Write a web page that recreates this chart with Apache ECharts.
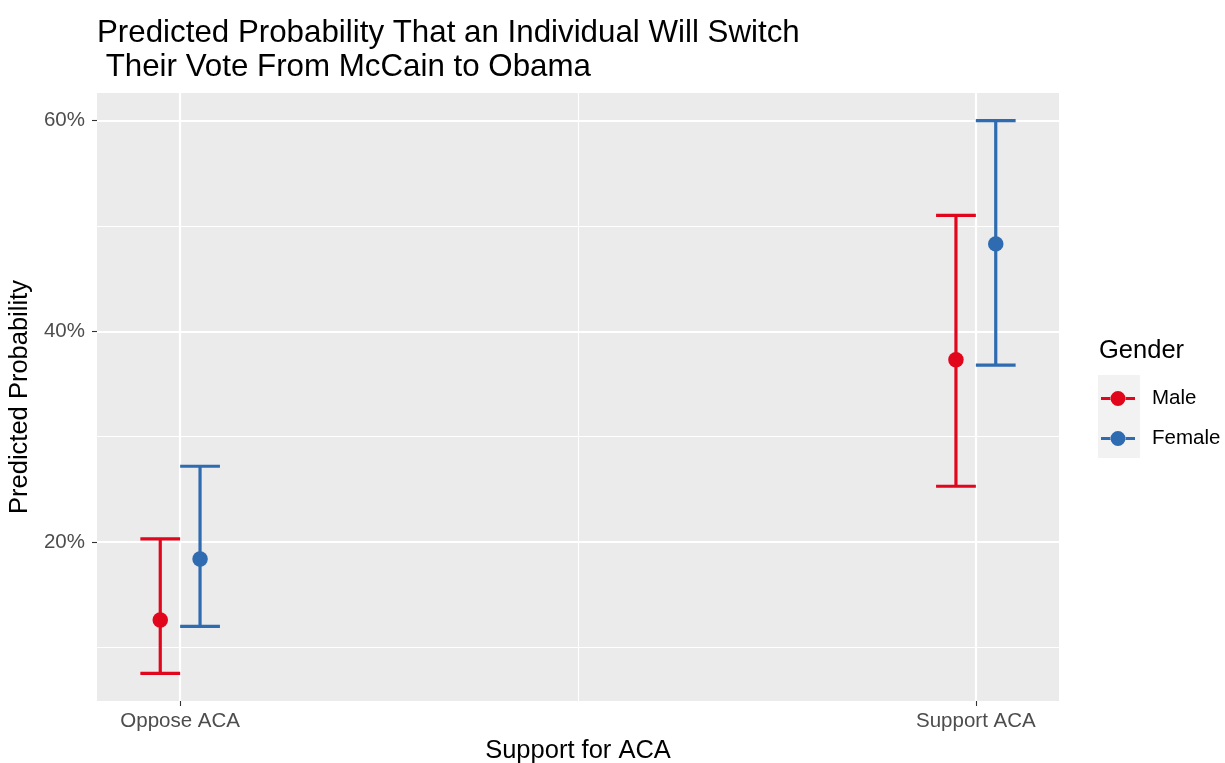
<!DOCTYPE html>
<html>
<head>
<meta charset="utf-8">
<title>Predicted Probability of Switching Vote</title>
<script src="https://cdn.jsdelivr.net/npm/echarts@6/dist/echarts.min.js"></script>
<style>
  html, body { margin: 0; padding: 0; background: #ffffff; }
  #chart { width: 1225px; height: 763px; }
</style>
</head>
<body>
<div id="chart"></div>
<script>
// Categories on the x axis and the two gender groups
const categories = ['Oppose ACA', 'Support ACA'];
const groups = ['Male', 'Female'];

// Predicted probabilities (%) with their confidence bounds
const maleEstimate = [12.6, 37.3];
const maleLower = [7.55, 25.3];
const maleUpper = [20.3, 51.0];
const femaleEstimate = [18.4, 48.3];
const femaleLower = [12.0, 36.8];
const femaleUpper = [27.2, 60.0];

// Tick values
const yTicks = [20, 40, 60];
const yMinorGrid = [10, 30, 50];
const xTicks = [1, 2];
const xMinorGrid = [1.5];

const FONT = '"Liberation Sans", Arial, Helvetica, sans-serif';
const RED = '#E2061C';
const BLUE = '#2E6BB0';

// Dodge and error-bar cap geometry, in x-axis units
const DODGE = 0.025;
const CAP_HALF = 0.025;

function toRows(est, lo, hi) {
  return categories.map((c, i) => [i + 1, lo[i], hi[i], est[i]]);
}

function errorBar(offset) {
  return function (params, api) {
    const x = api.value(0) + offset;
    const lo = api.coord([x, api.value(1)]);
    const hi = api.coord([x, api.value(2)]);
    const mid = api.coord([x, api.value(3)]);
    const capL = api.coord([x - CAP_HALF, api.value(1)])[0];
    const capR = api.coord([x + CAP_HALF, api.value(1)])[0];
    const color = api.visual('color');
    const stroke = { stroke: color, lineWidth: 3.2, fill: null };
    return {
      type: 'group',
      children: [
        { type: 'line', shape: { x1: lo[0], y1: lo[1], x2: hi[0], y2: hi[1] }, style: stroke },
        { type: 'line', shape: { x1: capL, y1: hi[1], x2: capR, y2: hi[1] }, style: stroke },
        { type: 'line', shape: { x1: capL, y1: lo[1], x2: capR, y2: lo[1] }, style: stroke },
        { type: 'circle', shape: { cx: mid[0], cy: mid[1], r: 7.75 }, style: { fill: color } }
      ]
    };
  };
}

// White panel grid lines (major thick, minor thin)
const gridLines = []
  .concat(yTicks.map(v => ({ yAxis: v, lineStyle: { width: 2.2 } })))
  .concat(yMinorGrid.map(v => ({ yAxis: v, lineStyle: { width: 1.1 } })))
  .concat(xTicks.map(v => ({ xAxis: v, lineStyle: { width: 2.2 } })))
  .concat(xMinorGrid.map(v => ({ xAxis: v, lineStyle: { width: 1.1 } })));

// Legend key: short line with a dot in the middle
const keyIcon = 'path://M0,6 L10,6 L10,9 L0,9 Z M24,6 L34,6 L34,9 L24,9 Z M9.5,7.5 A7.5,7.5 0 1,0 24.5,7.5 A7.5,7.5 0 1,0 9.5,7.5 Z';

const chart = echarts.init(document.getElementById('chart'), null, { renderer: 'canvas' });

chart.setOption({
  animation: false,
  backgroundColor: '#ffffff',
  textStyle: { fontFamily: FONT },
  title: [
    {
      text: 'Predicted Probability That an Individual Will Switch\n Their Vote From McCain to Obama',
      left: 97,
      top: 16,
      padding: 0,
      textStyle: { fontFamily: FONT, fontSize: 31.3, fontWeight: 'normal', color: '#000000', lineHeight: 34 }
    },
    {
      text: 'Gender',
      left: 1099,
      top: 338,
      padding: 0,
      textStyle: { fontFamily: FONT, fontSize: 25.5, fontWeight: 'normal', color: '#000000' }
    }
  ],
  graphic: [
    {
      type: 'rect',
      z: 0,
      shape: { x: 1098, y: 375, width: 42, height: 83 },
      style: { fill: '#F2F2F2' },
      silent: true
    }
  ],
  legend: {
    orient: 'vertical',
    left: 1101,
    top: 388,
    padding: 0,
    itemWidth: 34,
    itemHeight: 15,
    itemGap: 19,
    z: 5,
    data: groups.map(g => ({ name: g, icon: keyIcon })),
    textStyle: { fontFamily: FONT, fontSize: 20.5, color: '#000000', padding: [0, 0, 0, 12] }
  },
  grid: {
    left: 97,
    right: 166,
    top: 93,
    bottom: 62,
    show: true,
    backgroundColor: '#EBEBEB',
    borderWidth: 0,
    containLabel: false,
    outerBoundsMode: 'none'
  },
  xAxis: {
    type: 'value',
    min: 0.8955,
    max: 2.1045,
    name: 'Support for ACA',
    nameLocation: 'middle',
    nameGap: 37,
    nameTextStyle: { fontFamily: FONT, fontSize: 25.5, color: '#000000' },
    axisLine: { show: false },
    splitLine: { show: false },
    axisTick: { show: true, customValues: xTicks, length: 5, lineStyle: { color: '#333333', width: 1.1 } },
    axisLabel: {
      customValues: xTicks,
      margin: 10,
      fontFamily: FONT,
      fontSize: 20.5,
      color: '#4D4D4D',
      formatter: v => categories[Math.round(v) - 1]
    }
  },
  yAxis: {
    type: 'value',
    min: 4.92,
    max: 62.62,
    name: 'Predicted Probability',
    nameLocation: 'middle',
    nameRotate: 90,
    nameGap: 59,
    nameTextStyle: { fontFamily: FONT, fontSize: 25.5, color: '#000000' },
    axisLine: { show: false },
    splitLine: { show: false },
    axisTick: { show: true, customValues: yTicks, length: 5, lineStyle: { color: '#333333', width: 1.1 } },
    axisLabel: {
      customValues: yTicks,
      margin: 12,
      fontFamily: FONT,
      fontSize: 20.5,
      color: '#4D4D4D',
      formatter: v => v + '%'
    }
  },
  series: [
    {
      name: 'grid',
      type: 'line',
      z: 1,
      data: [],
      showSymbol: false,
      silent: true,
      markLine: {
        z: 1,
        silent: true,
        symbol: ['none', 'none'],
        label: { show: false },
        lineStyle: { color: '#ffffff', type: 'solid' },
        emphasis: { disabled: true },
        data: gridLines
      }
    },
    {
      name: groups[0],
      type: 'custom',
      z: 3,
      itemStyle: { color: RED },
      renderItem: errorBar(-DODGE),
      encode: { x: 0, y: [1, 2, 3] },
      data: toRows(maleEstimate, maleLower, maleUpper)
    },
    {
      name: groups[1],
      type: 'custom',
      z: 3,
      itemStyle: { color: BLUE },
      renderItem: errorBar(DODGE),
      encode: { x: 0, y: [1, 2, 3] },
      data: toRows(femaleEstimate, femaleLower, femaleUpper)
    }
  ]
});
</script>
</body>
</html>
